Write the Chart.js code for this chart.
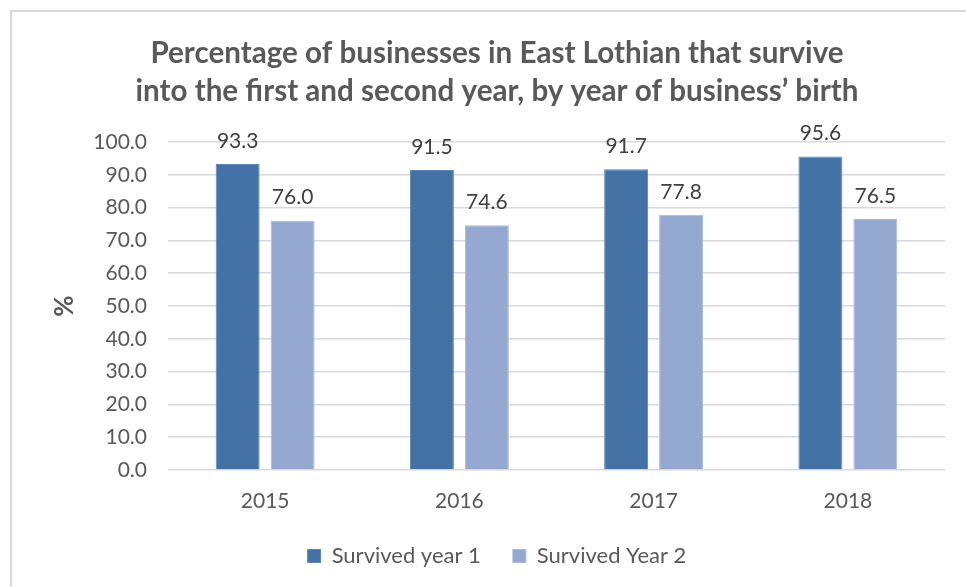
<!DOCTYPE html>
<html>
<head>
<meta charset="utf-8">
<script src="https://cdn.jsdelivr.net/npm/chart.js@4"></script>
<style>
  html, body { margin: 0; padding: 0; background: #fff; overflow: hidden; }
  #wrap { position: relative; width: 966px; height: 587px; }
  #frame {
    position: absolute; left: 10px; top: 10px; width: 1000px; height: 640px;
    border-left: 2px solid #d9d9d9; border-top: 2px solid #d9d9d9;
  }
  #chart { position: absolute; left: 0; top: 0; }
</style>
</head>
<body>
<div id="wrap">
  <div id="frame"></div>
  <canvas id="chart" width="966" height="587"></canvas>
</div>
<script>
// ── Data ──────────────────────────────────────────────────
const years = ["2015", "2016", "2017", "2018"];
const survivedYear1 = [93.3, 91.5, 91.7, 95.6];
const survivedYear2 = [76.0, 74.6, 77.8, 76.5];
const yTicks = [0, 10, 20, 30, 40, 50, 60, 70, 80, 90, 100];

// ── Style ─────────────────────────────────────────────────
const FONT = "Lato, 'Open Sans', sans-serif";
const TEXT_GREY = "#595959";
const GRID_GREY = "#d9d9d9";

// Value labels drawn above each bar
const barValueLabels = {
  id: "barValueLabels",
  afterDatasetsDraw(chart) {
    const { ctx } = chart;
    ctx.save();
    ctx.font = `21px ${FONT}`;
    ctx.fillStyle = "#404040";
    ctx.textAlign = "center";
    ctx.textBaseline = "middle";
    chart.data.datasets.forEach((ds, i) => {
      chart.getDatasetMeta(i).data.forEach((bar, j) => {
        ctx.fillText(ds.data[j].toFixed(1), bar.x, bar.y - 23);
      });
    });
    ctx.restore();
  },
};

new Chart(document.getElementById("chart"), {
  type: "bar",
  data: {
    labels: years,
    datasets: [
      {
        label: "Survived year 1",
        data: survivedYear1,
        backgroundColor: "#4472a4",
        borderColor: "#5a84b4",
        borderWidth: 1,
      },
      {
        label: "Survived Year 2",
        data: survivedYear2,
        backgroundColor: "#95a9d0",
        borderColor: "#a9bada",
        borderWidth: 1,
      },
    ],
  },
  options: {
    responsive: false,
    animation: false,
    layout: { padding: { left: 49, right: 21, top: 0, bottom: 10 } },
    categoryPercentage: 0.566,
    barPercentage: 0.8,
    plugins: {
      title: {
        display: true,
        text: [
          "Percentage of businesses in East Lothian that survive",
          "into the first and second year, by year of business\u2019 birth",
        ],
        color: TEXT_GREY,
        font: { family: FONT, size: 29.6, weight: "bold", lineHeight: 38 / 29.6 },
        padding: { top: 34, bottom: 32 },
      },
      legend: {
        position: "bottom",
        labels: {
          boxWidth: 13,
          boxHeight: 13,
          padding: 32,
          color: TEXT_GREY,
          font: { family: FONT, size: 22 },
        },
      },
      tooltip: { enabled: false },
    },
    scales: {
      x: {
        afterFit(scale) { scale.height = 43; },
        grid: { display: false, drawTicks: false },
        border: { display: false },
        ticks: {
          color: TEXT_GREY,
          font: { family: FONT, size: 21 },
          padding: 19,
        },
      },
      y: {
        min: 0,
        max: 100,
        afterFit(scale) { scale.width = 119; },
        afterBuildTicks(scale) { scale.ticks = yTicks.map((v) => ({ value: v })); },
        grid: { color: GRID_GREY, lineWidth: 1.5, drawTicks: false },
        border: { display: false },
        ticks: {
          color: TEXT_GREY,
          font: { family: FONT, size: 21 },
          padding: 21,
          callback: (v) => Number(v).toFixed(1),
        },
        title: {
          display: true,
          text: "%",
          color: TEXT_GREY,
          font: { family: FONT, size: 26, weight: "bold" },
          padding: { top: 0, bottom: 0 },
        },
      },
    },
  },
  plugins: [barValueLabels],
});
</script>
</body>
</html>
